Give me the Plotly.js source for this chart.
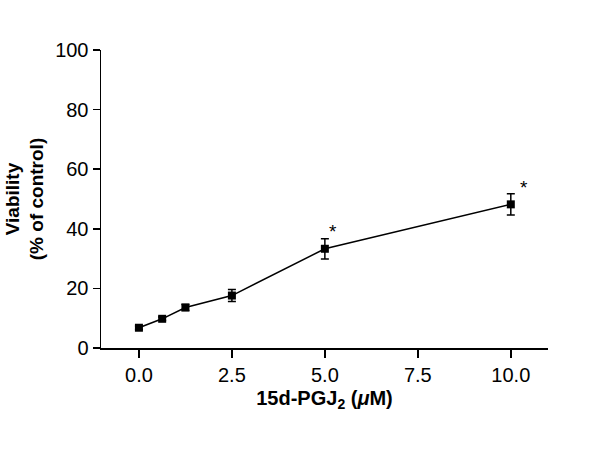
<!DOCTYPE html>
<html><head><meta charset="utf-8">
<script src="https://cdn.plot.ly/plotly-3.0.1.min.js"></script>
<style>body{margin:0;background:#fff}#chart{width:600px;height:449px}</style>
</head><body><div id="chart"></div>
<script>
const dose = [0, 0.625, 1.25, 2.5, 5, 10];
const viability = [6.8, 9.8, 13.6, 17.6, 33.3, 48.2];
const sem = [0.6, 0.6, 1.0, 2.0, 3.4, 3.6];
const sigX = [5, 10];
const sigY = [33.3, 48.2];
const sigLabel = ['*', '*'];

const font = 'Liberation Sans, Arial, Helvetica, sans-serif';
const trace = {
  x: dose, y: viability, type: 'scatter', mode: 'lines+markers',
  line: {color: '#000', width: 1.5},
  marker: {symbol: 'square', size: 8, color: '#000'},
  error_y: {type: 'data', array: sem, visible: true, color: '#000', thickness: 1.5, width: 4},
  showlegend: false, hoverinfo: 'skip'
};
const annotations = sigX.map((x, i) => ({
  x: x, y: sigY[i], xref: 'x', yref: 'y', text: sigLabel[i], showarrow: false,
  xshift: i === 0 ? 8 : 13, yshift: 17, font: {family: font, size: 19, color: '#000'}
}));
const layout = {
  width: 600, height: 449,
  margin: {l: 101, r: 52, t: 50, b: 101},
  paper_bgcolor: '#fff', plot_bgcolor: '#fff',
  font: {family: font, color: '#000', size: 20},
  xaxis: {
    range: [-1.02, 11], tickvals: [0, 2.5, 5, 7.5, 10], ticktext: ['0.0','2.5','5.0','7.5','10.0'],
    showgrid: false, zeroline: false, showline: true, linecolor: '#000', linewidth: 1.5,
    ticks: 'outside', ticklen: 8, tickwidth: 1.5, tickcolor: '#000',
    tickfont: {size: 20},
    title: {text: '<b>15d-PGJ<sub>2</sub> (<i>μ</i>M)</b>', font: {size: 20}, standoff: 6}
  },
  yaxis: {
    range: [0, 100], tickvals: [0, 20, 40, 60, 80, 100],
    showgrid: false, zeroline: false, showline: true, linecolor: '#000', linewidth: 1.5,
    ticks: 'outside', ticklen: 7, tickwidth: 1.5, tickcolor: '#000',
    tickfont: {size: 20},
    title: {text: '<b>Viability<br>(% of control)</b>', font: {size: 19}, standoff: 6}
  },
  annotations: annotations
};
Plotly.newPlot('chart', [trace], layout, {displayModeBar: false, staticPlot: true});
</script></body></html>
